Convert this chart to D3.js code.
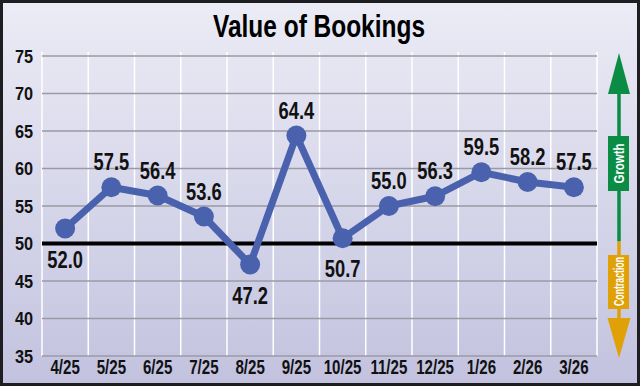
<!DOCTYPE html>
<html>
<head>
<meta charset="utf-8">
<script src="https://cdn.jsdelivr.net/npm/d3@7"></script>
<style>
  html, body { margin: 0; padding: 0; background: #fff; }
  svg { display: block; }
  text { font-family: "Liberation Sans", Arial, sans-serif; font-weight: bold; }
</style>
</head>
<body>
<svg id="chart" width="640" height="386"></svg>
<script>
// data
const months = ['4/25', '5/25', '6/25', '7/25', '8/25', '9/25', '10/25', '11/25', '12/25', '1/26', '2/26', '3/26'];
const values = [52.0, 57.5, 56.4, 53.6, 47.2, 64.4, 50.7, 55.0, 56.3, 59.5, 58.2, 57.5];
const yTicks = [35, 40, 45, 50, 55, 60, 65, 70, 75];
const below = ['4/25', '8/25', '10/25']; // labels drawn under the point

const W = 640, H = 386;
const NARROW = 0.78; // squeeze factor to mimic a condensed face
const svg = d3.select('#chart');

// background gradient
const defs = svg.append('defs');
const grad = defs.append('linearGradient')
    .attr('id', 'bg')
    .attr('x1', 0).attr('y1', 0).attr('x2', 0).attr('y2', 1);
grad.append('stop').attr('offset', '0%').attr('stop-color', '#ececf6');
grad.append('stop').attr('offset', '100%').attr('stop-color', '#c2c2df');

svg.append('rect')
    .attr('width', W).attr('height', H)
    .attr('fill', 'url(#bg)');

// border
svg.append('rect')
    .attr('x', 1.5).attr('y', 1.5)
    .attr('width', W - 3).attr('height', H - 3)
    .attr('fill', 'none')
    .attr('stroke', '#1e1e22')
    .attr('stroke-width', 3);

// scales
const x = d3.scaleBand().domain(months).range([42, 597]).padding(0);
const y = d3.scaleLinear().domain([35, 75]).range([356, 56]);
const cx = m => x(m) + x.bandwidth() / 2;

// vertical white separators
const xEdges = months.map(m => x(m)).concat([x.range()[1]]);
svg.append('g')
    .selectAll('line')
    .data(xEdges)
    .join('line')
    .attr('x1', d => d).attr('x2', d => d)
    .attr('y1', 52).attr('y2', 356)
    .attr('stroke', '#ffffff')
    .attr('stroke-width', 1.5);

// horizontal gridlines
svg.append('g')
    .selectAll('line')
    .data(yTicks.filter(t => t !== 50))
    .join('line')
    .attr('x1', 42).attr('x2', 597)
    .attr('y1', d => y(d)).attr('y2', d => y(d))
    .attr('stroke', '#9a9aa4')
    .attr('stroke-width', 1.5);

// 50 line
svg.append('line')
    .attr('x1', 42).attr('x2', 597)
    .attr('y1', y(50)).attr('y2', y(50))
    .attr('stroke', '#000')
    .attr('stroke-width', 4);

// y axis labels
svg.append('g')
    .selectAll('text')
    .data(yTicks)
    .join('text')
    .attr('transform', d => `translate(33,${y(d) + 6.7}) scale(0.88,1)`)
    .attr('text-anchor', 'end')
    .attr('font-size', 18.5)
    .attr('fill', '#111')
    .text(d => d);

// x axis labels
svg.append('g')
    .selectAll('text')
    .data(months)
    .join('text')
    .attr('transform', d => `translate(${cx(d)},374) scale(0.72,1)`)
    .attr('text-anchor', 'middle')
    .attr('font-size', 21)
    .attr('fill', '#111')
    .text(d => d);

// line + points
const pts = months.map((m, i) => ({ m, v: values[i] }));
const line = d3.line()
    .x(d => cx(d.m))
    .y(d => y(d.v));

svg.append('path')
    .datum(pts)
    .attr('d', line)
    .attr('fill', 'none')
    .attr('stroke', '#4a62ad')
    .attr('stroke-width', 7)
    .attr('stroke-linejoin', 'round');

svg.append('g')
    .selectAll('circle')
    .data(pts)
    .join('circle')
    .attr('cx', d => cx(d.m))
    .attr('cy', d => y(d.v))
    .attr('r', 10)
    .attr('fill', '#4a62ad');

// value labels
svg.append('g')
    .selectAll('text')
    .data(pts)
    .join('text')
    .attr('transform', d => {
        const ty = below.includes(d.m) ? y(d.v) + 39 : y(d.v) - 17;
        return `translate(${cx(d.m)},${ty}) scale(${NARROW},1)`;
    })
    .attr('text-anchor', 'middle')
    .attr('font-size', 23.5)
    .attr('fill', '#111')
    .text(d => d.v.toFixed(1));

// title
svg.append('text')
    .attr('x', 319)
    .attr('y', 37)
    .attr('text-anchor', 'middle')
    .attr('font-size', 30.5)
    .attr('textLength', 212)
    .attr('lengthAdjust', 'spacingAndGlyphs')
    .attr('fill', '#000')
    .text('Value of Bookings');

// growth / contraction arrow on the right
const ax = 619;
const green = '#0b8c44', orange = '#e0a106';
svg.append('line')
    .attr('x1', ax).attr('x2', ax)
    .attr('y1', 90).attr('y2', y(50) - 2)
    .attr('stroke', green).attr('stroke-width', 3.5);
svg.append('path')
    .attr('d', `M${ax},53 L${ax + 11},94 L${ax - 11},94 Z`)
    .attr('fill', green);
svg.append('rect')
    .attr('x', 608).attr('y', 136).attr('width', 21).attr('height', 55)
    .attr('fill', green);
svg.append('text')
    .attr('transform', `translate(624,163.5) rotate(-90)`)
    .attr('text-anchor', 'middle')
    .attr('font-size', 15)
    .attr('textLength', 40)
    .attr('lengthAdjust', 'spacingAndGlyphs')
    .attr('fill', '#fff')
    .text('Growth');

svg.append('line')
    .attr('x1', ax).attr('x2', ax)
    .attr('y1', y(50) - 2).attr('y2', 322)
    .attr('stroke', orange).attr('stroke-width', 3.5);
svg.append('path')
    .attr('d', `M${ax - 11.5},318 L${ax + 11.5},318 L${ax},358 Z`)
    .attr('fill', orange);
svg.append('rect')
    .attr('x', 608).attr('y', 255).attr('width', 21).attr('height', 54)
    .attr('fill', orange);
svg.append('text')
    .attr('transform', `translate(624,281.5) rotate(-90)`)
    .attr('text-anchor', 'middle')
    .attr('font-size', 14)
    .attr('textLength', 49)
    .attr('lengthAdjust', 'spacingAndGlyphs')
    .attr('fill', '#fff')
    .text('Contraction');
</script>
</body>
</html>
